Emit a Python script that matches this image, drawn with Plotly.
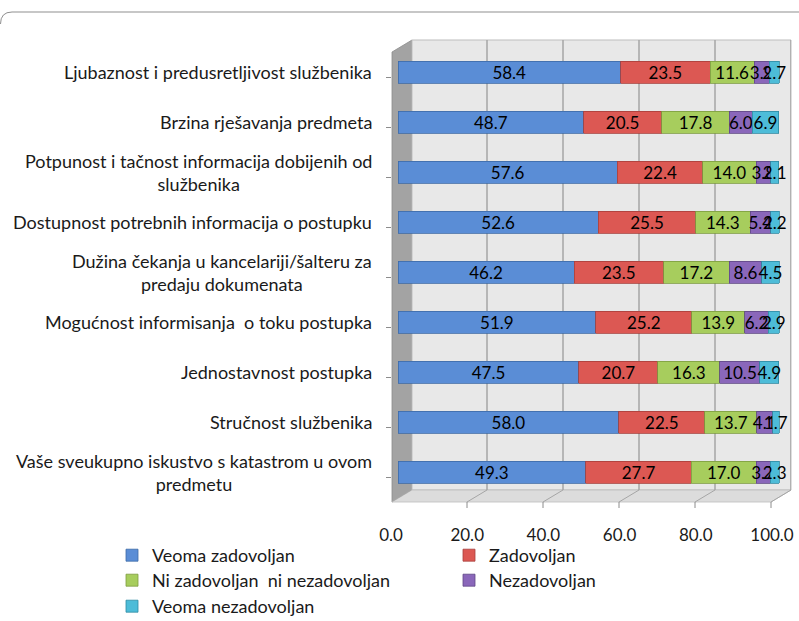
import plotly.graph_objects as go

categories = [
    "Ljubaznost i predusretljivost službenika",
    "Brzina rješavanja predmeta",
    "Potpunost i tačnost informacija dobijenih od<br>službenika",
    "Dostupnost potrebnih informacija o postupku",
    "Dužina čekanja u kancelariji/šalteru za<br>predaju dokumenata",
    "Mogućnost informisanja  o toku postupka",
    "Jednostavnost postupka",
    "Stručnost službenika",
    "Vaše sveukupno iskustvo s katastrom u ovom<br>predmetu",
]
series_names = ["Veoma zadovoljan", "Zadovoljan", "Ni zadovoljan  ni nezadovoljan",
                "Nezadovoljan", "Veoma nezadovoljan"]
veoma_zadovoljan = [58.4, 48.7, 57.6, 52.6, 46.2, 51.9, 47.5, 58.0, 49.3]
zadovoljan = [23.5, 20.5, 22.4, 25.5, 23.5, 25.2, 20.7, 22.5, 27.7]
ni_ni = [11.6, 17.8, 14.0, 14.3, 17.2, 13.9, 16.3, 13.7, 17.0]
nezadovoljan = [3.9, 6.0, 3.8, 5.4, 8.6, 6.2, 10.5, 4.1, 3.7]
veoma_nezadovoljan = [2.7, 6.9, 2.1, 2.2, 4.5, 2.9, 4.9, 1.7, 2.3]
x_ticks = [0, 20, 40, 60, 80, 100]

series_values = [veoma_zadovoljan, zadovoljan, ni_ni, nezadovoljan, veoma_nezadovoljan]
colors = ["#5a8dd6", "#dc5853", "#a7cd5d", "#8a67ba", "#4dbcd8"]
edges = ["#3d6aa6", "#a8403c", "#7d9c40", "#5f4885", "#2f8aa3"]

FONT = "Lato"
FS = 18
W, H = 799, 621
L, R, T, B = 392, 791, 40, 502  # plot area in pixels

def px(x):
    return (x - L) / (R - L)

def py(y):
    return (B - y) / (B - T)

ycat = list(range(len(categories)))

# legend placement: two columns, three rows (left col: items 1,3,5; right col: 2,4)
legend_ids = ["legend", "legend2", "legend3", "legend4", "legend5"]
legend_pos = [(112, 537), (449, 537), (112, 562), (449, 562), (112, 588)]

fig = go.Figure()
for name, vals, c, e, lg in zip(series_names, series_values, colors, edges, legend_ids):
    fig.add_trace(go.Bar(
        y=ycat, x=vals, name=name, orientation="h",
        marker=dict(color=c, line=dict(color=e, width=0.8)),
        width=0.44, offset=-0.32,
        text=vals, texttemplate="%{x:.1f}", textposition="inside",
        insidetextanchor="middle", textangle=0,
        textfont=dict(family=FONT, size=17, color="#000000"),
        cliponaxis=False, legend=lg,
        hoverinfo="skip",
    ))

# x scale: value 0 at pixel 398, 3.81 px per unit
x0_px, ppu = 398.0, 3.81
xr = [(L - x0_px) / ppu, (R - x0_px) / ppu]

shapes = []
# 3D walls
shapes.append(dict(type="path", xref="paper", yref="paper", layer="below",
                   path=f"M{px(392)},{py(52)} L{px(412)},{py(40)} L{px(412)},{py(490)} L{px(392)},{py(502)} Z",
                   fillcolor="#a3a3a3", line=dict(color="#8c8c8c", width=0.8)))
shapes.append(dict(type="rect", xref="paper", yref="paper", layer="below",
                   x0=px(412), x1=px(791), y0=py(490), y1=py(40),
                   fillcolor="#e8e8e8", line=dict(color="#bdbdbd", width=1)))
shapes.append(dict(type="path", xref="paper", yref="paper", layer="below",
                   path=f"M{px(392)},{py(502)} L{px(412)},{py(490)} L{px(791)},{py(490)} L{px(771)},{py(502)} Z",
                   fillcolor="#dcdcdc", line=dict(color="#bdbdbd", width=0.8)))
# back-wall gridlines & floor lines at tick values (shifted by the depth)
depth_back = (411 - x0_px) / ppu
depth_front = (391 - x0_px) / ppu
for v in x_ticks[1:]:
    shapes.append(dict(type="line", xref="x", yref="paper", layer="below",
                       x0=v * 3.8 / ppu + depth_back, x1=v * 3.8 / ppu + depth_back,
                       y0=py(490), y1=py(40), line=dict(color="#a6a6a6", width=1.5)))
for v in x_ticks:
    shapes.append(dict(type="line", xref="x", yref="paper", layer="below",
                       x0=v * 3.8 / ppu + depth_front, x1=v * 3.8 / ppu + depth_back,
                       y0=py(502), y1=py(490), line=dict(color="#a6a6a6", width=1)))
    shapes.append(dict(type="line", xref="x", yref="paper", layer="below",
                       x0=v * 3.8 / ppu + depth_front, x1=v * 3.8 / ppu + depth_front,
                       y0=py(502), y1=py(508), line=dict(color="#8c8c8c", width=1)))
# chart-area border (rounded top-left corner)
shapes.append(dict(type="path", xref="paper", yref="paper", layer="above",
                   path=f"M{px(0.5)},{py(24)} Q{px(0.5)},{py(12)} {px(12)},{py(12)} L{px(799)},{py(12)}",
                   line=dict(color="#8f8f8f", width=1)))

annotations = []
for i, cat in enumerate(categories):
    annotations.append(dict(
        text=cat, xref="paper", yref="y", x=px(374), y=i - 0.1,
        xanchor="right", yanchor="middle", align="center", showarrow=False,
        font=dict(family=FONT, size=FS, color="#1a1a1a"),
    ))

layout_legends = {}
for lg, (lx, ly) in zip(legend_ids, legend_pos):
    layout_legends[lg] = dict(x=px(lx), y=py(ly), xanchor="left", yanchor="top",
                              orientation="v",
                              font=dict(family=FONT, size=FS, color="#1a1a1a"),
                              bgcolor="rgba(0,0,0,0)")

fig.update_layout(
    width=W, height=H,
    margin=dict(l=L, r=W - R, t=T, b=H - B, autoexpand=False),
    paper_bgcolor="white", plot_bgcolor="rgba(0,0,0,0)",
    barmode="stack",
    font=dict(family=FONT, size=FS, color="#1a1a1a"),
    uniformtext=dict(minsize=17, mode="show"),
    xaxis=dict(range=xr, tickvals=x_ticks, ticktext=[f"{v:.1f}" for v in x_ticks],
               showgrid=False, zeroline=False, showline=False,
               ticks="outside", ticklen=18, tickcolor="rgba(0,0,0,0)",
               ticklabelshift=-7, automargin=False,
               tickfont=dict(family=FONT, size=17, color="#1a1a1a"), fixedrange=True),
    yaxis=dict(range=[len(categories) - 0.5, -0.74], tickvals=ycat,
               showticklabels=False, showgrid=False, zeroline=False, showline=False,
               ticks="outside", tickson="boundaries", ticklen=5, tickcolor="#8c8c8c",
               automargin=False, fixedrange=True),
    showlegend=True,
    shapes=shapes, annotations=annotations,
    **layout_legends,
)

fig.write_html("out.html", config={"displayModeBar": False},
               post_script="document.body.style.margin='0';document.body.style.overflow='hidden';")
